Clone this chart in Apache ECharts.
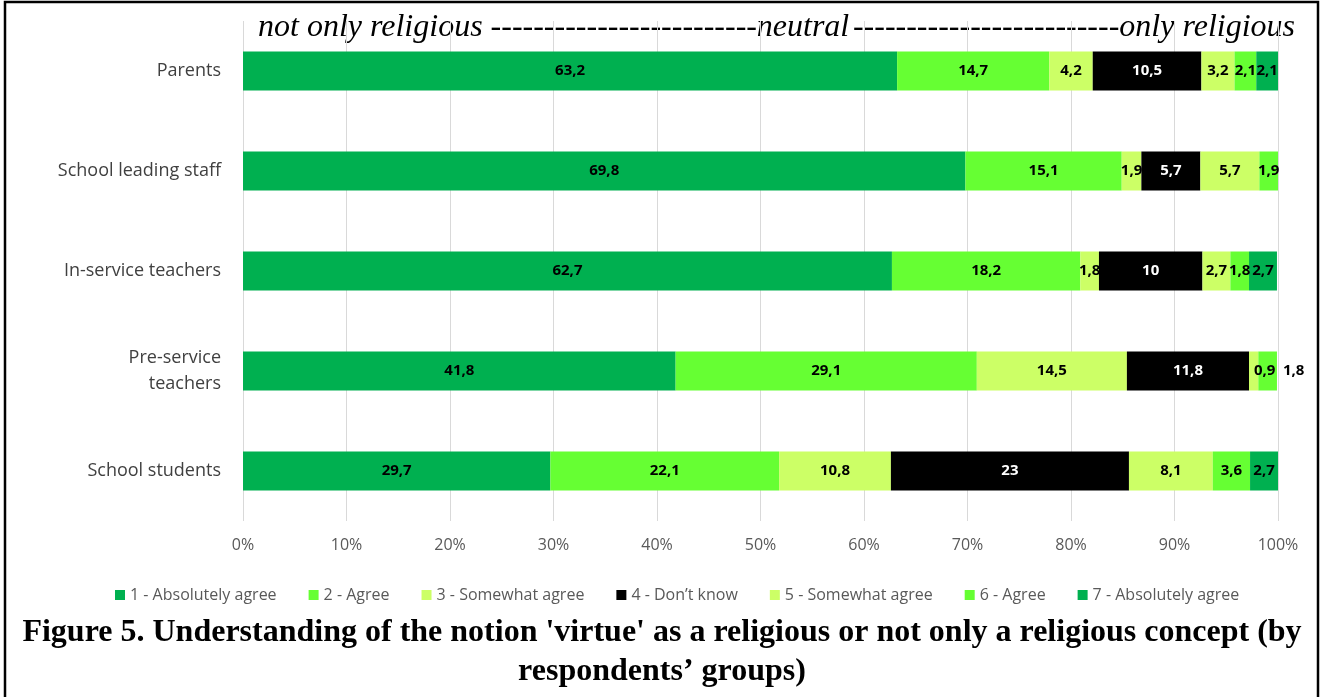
<!DOCTYPE html>
<html>
<head>
<meta charset="utf-8">
<script src="https://cdn.jsdelivr.net/npm/echarts@6/dist/echarts.min.js"></script>
<style>
  html, body { margin: 0; padding: 0; background: #fff; }
  #chart { width: 1323px; height: 697px; }
</style>
</head>
<body>
<div id="chart"></div>
<script>
// groups, top to bottom
var groups = ["Parents", "School leading staff", "In-service teachers", "Pre-service\nteachers", "School students"];
var seriesNames = ["1 - Absolutely agree", "2 - Agree", "3 - Somewhat agree", "4 - Don\u2019t know", "5 - Somewhat agree", "6 - Agree", "7 - Absolutely agree"];
var colors = ["#00B050", "#66FF33", "#CCFF66", "#000000", "#CCFF66", "#66FF33", "#00B050"];

// percentages per answer, order follows groups
var s1 = [63.2, 69.8, 62.7, 41.8, 29.7];
var s2 = [14.7, 15.1, 18.2, 29.1, 22.1];
var s3 = [4.2, 1.9, 1.8, 14.5, 10.8];
var s4 = [10.5, 5.7, 10, 11.8, 23];
var s5 = [3.2, 5.7, 2.7, 0.9, 8.1];
var s6 = [2.1, 1.9, 1.8, 1.8, 3.6];
var s7 = [2.1, 0, 2.7, 0, 2.7];
var allValues = [s1, s2, s3, s4, s5, s6, s7];

var xTicks = [0, 10, 20, 30, 40, 50, 60, 70, 80, 90, 100];

var dashes = "-------------------------";
var figTitle = "Figure 5. Understanding of the notion 'virtue' as a religious or not only a religious concept (by\nrespondents\u2019 groups)";

var sansFont = "'Open Sans', sans-serif";
var serifFont = "'Liberation Serif', 'Times New Roman', serif";

var series = allValues.map(function (vals, i) {
  return {
    name: seriesNames[i],
    type: "bar",
    stack: "total",
    barWidth: 39,
    itemStyle: { color: colors[i] },
    label: {
      show: true,
      position: "inside",
      fontFamily: sansFont,
      fontWeight: "bold",
      fontSize: 15,
      color: i === 3 ? "#ffffff" : "#000000",
      formatter: function (p) {
        return p.value === 0 ? "" : String(p.value).replace(".", ",");
      }
    },
    data: vals.map(function (v, j) {
      var item = { value: v };
      // small segments of pre-service teachers were nudged in the original
      if (j === 3 && i === 4) item.label = { offset: [11, 0] };
      if (j === 3 && i === 5) item.label = { offset: [26, 0] };
      return item;
    })
  };
});

var italic = { fontFamily: serifFont, fontStyle: "italic", fontSize: 32, fill: "#000" };

var chart = echarts.init(document.getElementById("chart"));
chart.setOption({
  animation: false,
  color: colors,
  grid: { left: 243, right: 45, top: 21, bottom: 176 },
  legend: {
    data: seriesNames,
    top: 582,
    left: 110,
    itemWidth: 10,
    itemHeight: 10,
    itemGap: 32,
    icon: "rect",
    textStyle: { fontFamily: sansFont, fontSize: 16, color: "#595959" }
  },
  xAxis: {
    type: "value",
    min: 0,
    max: 100,
    interval: 10,
    axisLine: { show: false },
    axisTick: { show: false },
    splitLine: { lineStyle: { color: "#d9d9d9" } },
    axisLabel: {
      margin: 16,
      fontFamily: sansFont,
      fontSize: 16,
      color: "#595959",
      formatter: function (v) { return xTicks.indexOf(v) >= 0 ? v + "%" : ""; }
    }
  },
  yAxis: {
    type: "category",
    inverse: true,
    data: groups,
    axisLine: { show: false },
    axisTick: { show: false },
    axisLabel: {
      margin: 22,
      fontFamily: sansFont,
      fontSize: 18,
      lineHeight: 26,
      color: "#404040",
      align: "right"
    }
  },
  graphic: [
    { type: "text", x: 258, y: 12, style: Object.assign({ text: "not only religious " + dashes, textAlign: "left" }, italic) },
    { type: "text", x: 803, y: 12, style: Object.assign({ text: "neutral", textAlign: "center" }, italic) },
    { type: "text", x: 1295, y: 12, style: Object.assign({ text: dashes + "only religious", textAlign: "right" }, italic) },
    {
      type: "text",
      x: 662,
      y: 613,
      style: {
        text: figTitle,
        textAlign: "center",
        fontFamily: serifFont,
        fontWeight: "bold",
        fontSize: 32,
        lineHeight: 39,
        fill: "#000"
      }
    },
    {
      type: "rect",
      shape: { x: 5, y: 2, width: 1313, height: 720 },
      style: { fill: "none", stroke: "#000", lineWidth: 2.5 }
    }
  ],
  series: series
});
</script>
</body>
</html>
